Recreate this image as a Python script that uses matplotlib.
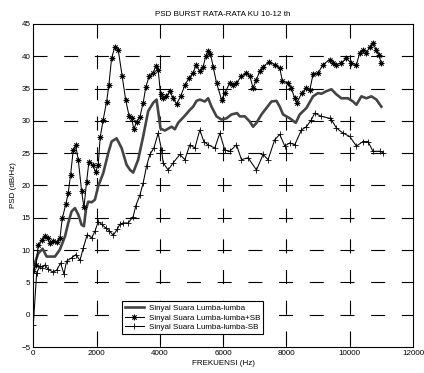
import matplotlib
matplotlib.use("Agg")
import matplotlib.pyplot as plt

plt.rcParams['font.family'] = ['Liberation Sans', 'DejaVu Sans']
plt.rcParams['lines.scale_dashes'] = False

# ---------------- data ----------------
judul = "PSD BURST RATA-RATA KU 10-12 th"
label_x = "FREKUENSI (Hz)"
label_y = "PSD (dB/Hz)"
legenda = ["Sinyal Suara Lumba-lumba", "Sinyal Suara Lumba-lumba+SB", "Sinyal Suara Lumba-lumba-SB"]

xticks = [0, 2000, 4000, 6000, 8000, 10000, 12000]
yticks = [-5, 0, 5, 10, 15, 20, 25, 30, 35, 40, 45]

# sinyal asli (garis tebal)
f_asli = [0, 50, 158, 296, 423, 685, 843, 1001, 1105, 1212, 1317, 1421, 1528, 1601,
          1664, 1737, 1844, 1948, 2052, 2210, 2368, 2475, 2633, 2791, 2949, 3060,
          3158, 3315, 3473, 3631, 3789, 3896, 3969, 4023, 4159, 4263, 4370, 4474,
          4579, 4790, 4948, 5052, 5160, 5264, 5422, 5526, 5633, 5791, 5949, 6107,
          6265, 6441, 6527, 6685, 6842, 6947, 7054, 7212, 7370, 7527, 7685, 7790,
          7894, 8106, 8295, 8422, 8633, 8841, 8999, 9106, 9264, 9422, 9580, 9738,
          9946, 10104, 10212, 10369, 10527, 10685, 10843, 11001]
psd_asli = [6.5, 8.0, 9.5, 10.2, 9.0, 9.0, 10.1, 12.1, 14.2, 16.0, 16.5, 15.5, 13.9, 13.7,
            16.3, 17.5, 17.4, 17.8, 19.9, 21.9, 25.0, 26.8, 27.3, 25.8, 23.2, 22.4,
            22.0, 24.0, 27.6, 31.5, 32.8, 33.3, 30.7, 28.8, 28.5, 28.8, 29.1, 28.7,
            29.7, 30.8, 31.7, 32.2, 33.1, 33.3, 33.0, 33.5, 32.2, 30.7, 30.2, 30.4,
            31.0, 31.2, 30.7, 30.7, 29.9, 29.1, 29.7, 31.0, 32.0, 33.0, 33.1, 32.2,
            31.0, 30.4, 29.7, 31.0, 32.0, 33.8, 34.3, 34.2, 34.6, 34.9, 34.1, 33.5,
            33.5, 33.0, 32.5, 33.8, 33.5, 33.8, 33.3, 32.2]

# sinyal + SB (penanda *)
f_plus = [0, 85, 158, 265, 370, 450, 527, 632, 739, 843, 916, 1033, 1105, 1181, 1263,
          1339, 1421, 1528, 1601, 1686, 1759, 1876, 1970, 2052, 2115, 2210, 2318,
          2390, 2475, 2580, 2684, 2810, 2918, 3031, 3107, 3180, 3265, 3369, 3473,
          3559, 3663, 3789, 3874, 3947, 4023, 4105, 4210, 4317, 4421, 4528, 4654,
          4790, 4916, 5052, 5137, 5264, 5368, 5450, 5526, 5600, 5684, 5791, 5949,
          6053, 6211, 6320, 6422, 6580, 6738, 6840, 6947, 7054, 7158, 7265, 7440,
          7632, 7790, 7874, 8051, 8150, 8264, 8336, 8480, 8633, 8740, 8841, 8999,
          9157, 9369, 9480, 9580, 9740, 9896, 10054, 10212, 10316, 10420, 10527,
          10632, 10736, 10843, 10925, 11001]
psd_plus = [6.7, 7.7, 10.8, 11.6, 12.2, 11.8, 11.1, 11.4, 11.2, 11.9, 14.9, 17.2, 18.9, 21.7, 25.5,
            26.2, 24.0, 19.1, 16.6, 20.6, 23.7, 23.2, 22.1, 23.2, 27.5, 30.2, 33.0,
            35.6, 39.7, 41.5, 41.0, 36.9, 33.3, 30.7, 30.4, 28.7, 29.9, 30.6, 32.8,
            35.3, 36.9, 37.4, 38.5, 37.9, 34.1, 33.5, 33.8, 34.6, 33.5, 32.6, 33.8,
            35.5, 36.6, 37.4, 38.6, 37.7, 38.4, 40.0, 40.8, 40.4, 38.4, 35.9, 33.3,
            34.3, 35.9, 35.6, 35.9, 36.9, 37.4, 37.0, 35.1, 36.4, 37.7, 38.4, 39.1,
            38.7, 38.2, 36.1, 35.9, 35.1, 33.5, 32.8, 34.3, 35.1, 34.8, 37.2, 37.4,
            38.7, 39.5, 39.0, 38.7, 39.0, 39.7, 38.9, 38.7, 40.5, 41.0, 40.5,
            41.5, 42.0, 41.0, 40.2, 38.9]

# sinyal - SB (penanda +)
f_minus = [0, 107, 212, 290, 370, 474, 632, 739, 865, 969, 1054, 1212, 1348, 1475, 1579,
           1705, 1844, 1948, 2052, 2160, 2296, 2400, 2526, 2652, 2738, 2849, 3000,
           3158, 3243, 3369, 3473, 3580, 3685, 3811, 3947, 4054, 4105, 4263, 4421,
           4632, 4790, 4948, 5106, 5264, 5390, 5526, 5737, 5895, 6053, 6211, 6422,
           6580, 6789, 7054, 7263, 7420, 7632, 7790, 7948, 8106, 8264, 8475, 8633,
           8791, 8895, 9106, 9369, 9422, 9580, 9790, 10000, 10212, 10420, 10578,
           10736, 10948, 11050]
psd_minus = [-1.6, 6.5, 7.5, 7.3, 7.7, 7.0, 6.6, 6.9, 8.0, 6.3, 8.3, 8.8, 9.3, 8.4, 10.3,
             12.4, 11.9, 12.9, 14.4, 14.0, 13.4, 13.0, 12.3, 13.2, 14.0, 14.2, 14.2,
             15.2, 16.9, 18.5, 20.4, 23.0, 24.8, 25.8, 28.1, 25.5, 23.5, 22.4, 23.5,
             24.8, 24.0, 26.3, 25.8, 28.6, 26.8, 26.3, 25.8, 28.1, 25.5, 25.3, 26.3,
             24.0, 24.3, 22.4, 24.8, 24.0, 27.1, 27.9, 26.1, 26.6, 26.3, 28.6, 29.1,
             30.2, 31.2, 30.7, 30.4, 30.2, 28.9, 28.1, 27.6, 26.1, 26.8, 26.8,
             25.3, 25.3, 25.1]

# ---------------- gambar ----------------
fig = plt.figure(figsize=(4.24, 3.73), dpi=100)
ax = fig.add_axes([0.0785, 0.0697, 0.8955, 0.866])

# grid putus-putus ala matlab (garis vertikal digambar dari atas)
for yv in yticks[1:-1]:
    ax.plot([0, 12000], [yv, yv], color='black', lw=0.8, dashes=[10.1, 12.0], zorder=1)
for xv in xticks[1:-1]:
    ax.plot([xv, xv], [45, -5], color='black', lw=0.8, dashes=[10.1, 12.0], zorder=1)

l1, = ax.plot(f_asli, psd_asli, color='#444444', lw=1.9, zorder=3)
l2, = ax.plot(f_plus, psd_plus, color='black', lw=0.75, marker=(8, 2, 0), ms=4,
              mew=0.6, zorder=4)
l3, = ax.plot(f_minus, psd_minus, color='black', lw=0.75, marker='+', ms=4,
              mew=0.6, zorder=4)

ax.set_xlim(0, 12000)
ax.set_ylim(-5, 45)
ax.set_xticks(xticks)
ax.set_yticks(yticks)
ax.tick_params(direction='in', length=3, width=0.6, labelsize=5.8, pad=2,
               top=True, right=True)
for s in ax.spines.values():
    s.set_linewidth(0.8)

ax.set_title(judul, fontsize=5.8, pad=6)
ax.set_xlabel(label_x, fontsize=5.8, labelpad=2)
ax.set_ylabel(label_y, fontsize=5.8, labelpad=3)

leg = ax.legend([l1, l2, l3], legenda, loc='lower left', bbox_to_anchor=(0.233, 0.040),
                borderaxespad=0, fontsize=5.8, fancybox=False, framealpha=1,
                edgecolor='black', handlelength=2.4, handletextpad=0.6,
                labelspacing=0.25, borderpad=0.35)
leg.get_frame().set_linewidth(0.8)

fig.savefig("out.png", dpi=100)
